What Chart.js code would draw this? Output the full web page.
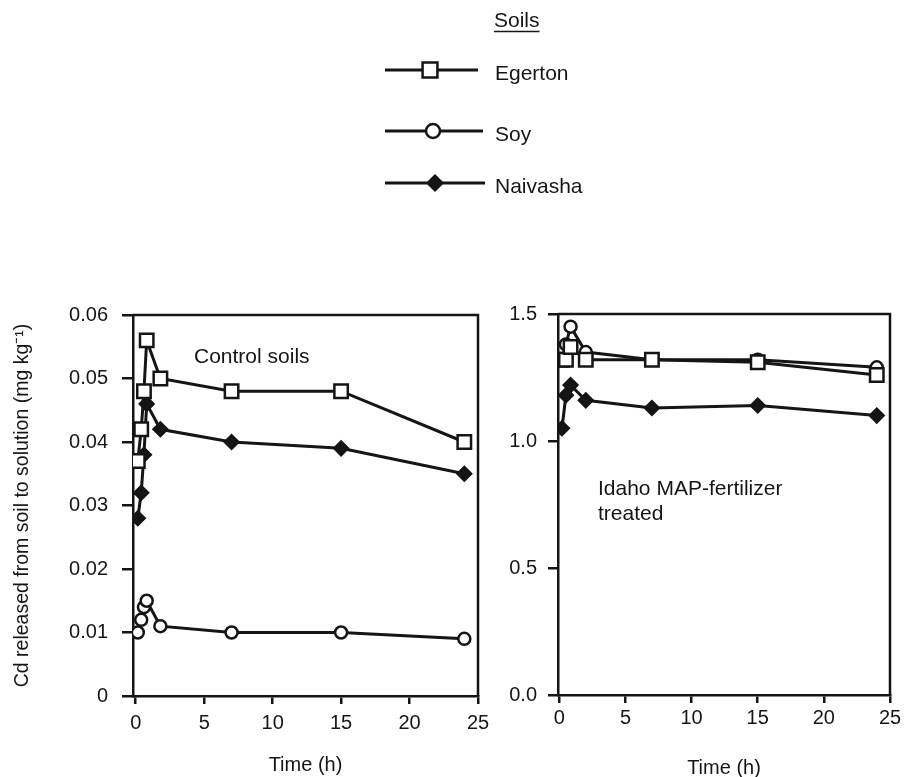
<!DOCTYPE html>
<html><head><meta charset="utf-8">
<script src="https://cdn.jsdelivr.net/npm/chart.js@4/dist/chart.umd.min.js"></script>
<style>
html,body{margin:0;padding:0;background:#fff;}
#wrap{position:relative;width:908px;height:777px;overflow:hidden;background:#fff;}
canvas{position:absolute;top:0;}
</style></head><body>
<div id="wrap">
<canvas id="leftChart" width="908" height="777" style="left:0;width:908px;height:777px"></canvas>
<canvas id="rightChart" width="418" height="777" style="left:490px;width:418px;height:777px"></canvas>
</div>
<script>
// ---------- data ----------
const seriesNames = ['Egerton', 'Soy', 'Naivasha'];
const legendTitle = 'Soils';

// Control soils panel
const controlTimes    = [0.15, 0.4, 0.6, 0.8, 1.8, 7, 15, 24];
const controlEgerton  = [0.037, 0.042, 0.048, 0.056, 0.050, 0.048, 0.048, 0.040];
const controlSoy      = [0.010, 0.012, 0.014, 0.015, 0.011, 0.010, 0.010, 0.009];
const controlNaivasha = [0.028, 0.032, 0.038, 0.046, 0.042, 0.040, 0.039, 0.035];

// Idaho MAP-fertilizer treated panel
const treatedTimes    = [0.2, 0.5, 0.85, 2, 7, 15, 24];
const treatedEgerton  = [1.32, 1.32, 1.37, 1.32, 1.32, 1.31, 1.26];
const treatedSoy      = [1.32, 1.38, 1.45, 1.35, 1.32, 1.32, 1.29];
const treatedNaivasha = [1.05, 1.18, 1.22, 1.16, 1.13, 1.14, 1.10];

// ticks
const timeTicks        = [0, 5, 10, 15, 20, 25];
const controlYTicks    = [0, 0.01, 0.02, 0.03, 0.04, 0.05, 0.06];
const controlYLabels   = ['0', '0.01', '0.02', '0.03', '0.04', '0.05', '0.06'];
const treatedYTicks    = [0, 0.5, 1.0, 1.5];
const treatedYLabels   = ['0.0', '0.5', '1.0', '1.5'];

const yTitle = 'Cd released from soil to solution (mg kg\u207B\u00B9)';
const xTitle = 'Time (h)';
const controlNote = ['Control soils'];
const treatedNote = ['Idaho MAP-fertilizer', 'treated'];

// ---------- styling ----------
const INK = '#151515';
const FONT = '"Liberation Sans", Arial, Helvetica, sans-serif';
const styles = {
  Egerton:  {pointStyle: 'rect',    radius: 9.5, bg: '#ffffff', bw: 2.5},
  Soy:      {pointStyle: 'circle',  radius: 6,   bg: '#ffffff', bw: 2.5},
  Naivasha: {pointStyle: 'rectRot', radius: 7.5, bg: INK,       bw: 1.5}
};

function makeDatasets(times, arrays) {
  // Chart.js draws dataset 0 on top: Egerton over Soy over Naivasha
  return [0, 1, 2].map(i => {
    const name = seriesNames[i];
    const s = styles[name];
    return {
      label: name,
      data: times.map((t, k) => ({x: t, y: arrays[i][k]})),
      borderColor: INK,
      borderWidth: 3,
      tension: 0,
      pointStyle: s.pointStyle,
      pointRadius: s.radius,
      pointBackgroundColor: s.bg,
      pointBorderColor: INK,
      pointBorderWidth: s.bw,
      pointHoverRadius: s.radius
    };
  });
}

const boxPlugin = {
  id: 'box',
  afterDatasetsDraw(chart) {
    const {ctx, chartArea: a} = chart;
    ctx.save();
    ctx.strokeStyle = INK;
    ctx.lineWidth = 2.5;
    ctx.beginPath();
    ctx.moveTo(a.left, a.top);
    ctx.lineTo(a.right, a.top);
    ctx.lineTo(a.right, a.bottom);
    ctx.stroke();
    ctx.restore();
  }
};

function notePlugin(lines, x, y0, dy) {
  return {
    id: 'note',
    afterDraw(chart) {
      const ctx = chart.ctx;
      ctx.save();
      ctx.fillStyle = INK;
      ctx.font = '21px ' + FONT;
      ctx.textAlign = 'left';
      ctx.textBaseline = 'alphabetic';
      lines.forEach((l, i) => ctx.fillText(l, x, y0 + i * dy));
      ctx.restore();
    }
  };
}

const legendPlugin = {
  id: 'soilLegend',
  afterDraw(chart) {
    const ctx = chart.ctx;
    ctx.save();
    ctx.fillStyle = INK;
    ctx.strokeStyle = INK;
    ctx.font = '21px ' + FONT;
    ctx.textAlign = 'left';
    ctx.textBaseline = 'alphabetic';
    ctx.fillText(legendTitle, 494, 27);
    const w = ctx.measureText(legendTitle).width;
    ctx.lineWidth = 1.5;
    ctx.beginPath(); ctx.moveTo(494, 31.5); ctx.lineTo(494 + w, 31.5); ctx.stroke();
    const rows = [70, 131, 183];
    const markerX = [430, 433, 435];
    const lineEnd = [478, 483, 485];
    const legendR = {Egerton: 10.5, Soy: 7, Naivasha: 8};
    seriesNames.forEach((name, i) => {
      const y = rows[i];
      const s = styles[name];
      ctx.lineWidth = 3;
      ctx.strokeStyle = INK;
      ctx.beginPath(); ctx.moveTo(385, y); ctx.lineTo(lineEnd[i], y); ctx.stroke();
      ctx.fillStyle = s.bg;
      ctx.lineWidth = s.bw;
      Chart.helpers.drawPoint(ctx, {pointStyle: s.pointStyle, radius: legendR[name], rotation: 0, borderWidth: s.bw}, markerX[i], y);
      ctx.fillStyle = INK;
      ctx.textBaseline = 'middle';
      ctx.fillText(name, 495, y + 4);
    });
    ctx.restore();
  }
};

function axisTicks(values) {
  return function(scale) { scale.ticks = values.map(v => ({value: v})); };
}

function baseOptions(cfg) {
  return {
    responsive: false,
    animation: false,
    devicePixelRatio: 1,
    events: [],
    layout: {padding: cfg.padding},
    plugins: {legend: {display: false}, tooltip: {enabled: false}, title: {display: false}},
    scales: {
      x: {
        type: 'linear',
        min: cfg.xMin, max: 25,
        afterBuildTicks: axisTicks(timeTicks),
        afterFit(scale) { scale.height = cfg.xHeight; },
        border: {display: true, color: INK, width: 2.5},
        grid: {drawOnChartArea: false, drawTicks: true, tickLength: 8, color: INK, lineWidth: 2.5},
        ticks: {color: INK, font: {family: FONT, size: 20}, padding: cfg.xTickPad, maxRotation: 0,
                callback: v => String(v)},
        title: {display: true, text: xTitle, color: INK, font: {family: FONT, size: 20},
                padding: {top: 0, bottom: cfg.xTitlePad}}
      },
      y: {
        type: 'linear',
        min: 0, max: cfg.yMax,
        afterBuildTicks: axisTicks(cfg.yTicks),
        afterFit(scale) { scale.width = cfg.yWidth; },
        border: {display: true, color: INK, width: 2.5},
        grid: {drawOnChartArea: false, drawTicks: true, tickLength: cfg.yTickLen, color: INK, lineWidth: 2.5},
        ticks: {color: INK, font: {family: FONT, size: 20}, padding: cfg.yTickPad,
                callback: v => { const i = cfg.yTicks.findIndex(t => Math.abs(t - v) < 1e-9); return i >= 0 ? cfg.yLabels[i] : ''; }},
        title: {display: cfg.showYTitle, text: yTitle, color: INK, font: {family: FONT, size: 19.5},
                padding: {top: 10.5, bottom: 0}}
      }
    }
  };
}

new Chart(document.getElementById('leftChart'), {
  type: 'line',
  data: {datasets: makeDatasets(controlTimes, [controlEgerton, controlSoy, controlNaivasha])},
  options: baseOptions({
    padding: {left: 0, top: 315, right: 430, bottom: 0},
    xMin: -0.2, xHeight: 81, xTickPad: 7, xTitlePad: 0,
    yMax: 0.06, yTicks: controlYTicks, yLabels: controlYLabels,
    yWidth: 133, yTickLen: 11, yTickPad: 14, showYTitle: true
  }),
  plugins: [boxPlugin, notePlugin(controlNote, 194, 363, 25), legendPlugin]
});

new Chart(document.getElementById('rightChart'), {
  type: 'line',
  data: {datasets: makeDatasets(treatedTimes, [treatedEgerton, treatedSoy, treatedNaivasha])},
  options: baseOptions({
    padding: {left: 0, top: 314, right: 18, bottom: 0},
    xMin: -0.1, xHeight: 82, xTickPad: 3, xTitlePad: -3,
    yMax: 1.5, yTicks: treatedYTicks, yLabels: treatedYLabels,
    yWidth: 68, yTickLen: 10, yTickPad: 11, showYTitle: false
  }),
  plugins: [boxPlugin, notePlugin(treatedNote, 108, 495, 25)]
});
</script>
</body></html>
